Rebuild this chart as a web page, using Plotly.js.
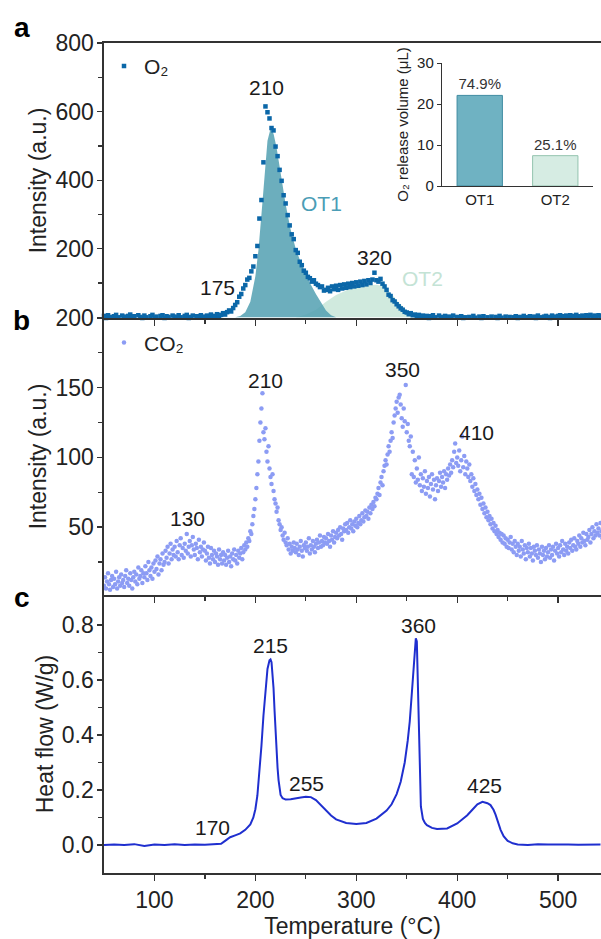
<!DOCTYPE html>
<html>
<head>
<meta charset="utf-8">
<script src="https://cdn.plot.ly/plotly-3.0.1.min.js"></script>
<style>html,body{margin:0;padding:0;background:#fff;}#chart{width:601px;height:939px;}</style>
</head>
<body>
<div id="chart"></div>
<script>
// ---------- Panel a: O2 release (MS signal), sampled every 2 °C from 50 °C ----------
const o2TempStart = 50, o2TempStep = 2;
const o2Intensity = [
  4, -2, 6, 1, -4, 3, 7, 0, -3, 5,
  2, -5, 4, 8, -1, 3, -3, 6, 1, -2,
  5, 0, -4, 3, 7, -1, 2, -3, 4, 6,
  -2, 3, 1, -5, 5, 2, -1, 6, 0, -3,
  4, 7, -2, 1, 5, -4, 3, 0, 6, 2,
  -1, 5, 3, 8, 0, 4, 9, 3, 7, 12,
  8, 15, 20, 17, 27, 36, 44, 60, 68, 84,
  94, 110, 115, 134, 148, 178, 208, 288, 342, 452,
  615, 598, 580, 552, 545, 498, 470, 430, 398, 356,
  332, 298, 268, 242, 228, 196, 188, 162, 152, 136,
  130, 118, 114, 104, 108, 98, 94, 88, 90, 78,
  80, 86, 76, 90, 82, 92, 80, 94, 84, 96,
  86, 98, 88, 100, 90, 102, 92, 104, 94, 106,
  96, 108, 100, 110, 130, 108, 104, 112, 98, 90,
  80, 66, 62, 50, 46, 38, 32, 26, 22, 16,
  14, 9, 12, 6, 8, 3, 7, 2, 5, 1,
  4, -2, 3, 6, 0, -3, 5, 1, -1, 4,
  -4, 2, 0, 5, -3, 1, -5, 3, -2, 0,
  -6, 1, -3, 4, -1, -4, 2, -2, 3, -5,
  0, -3, 2, -6, 1, -2, 4, -1, -4, 2,
  -3, 1, -5, 0, 3, -2, 1, -4, 4, 0,
  -1, 3, -3, 2, -2, 5, 0, -4, 2, 4,
  1, -2, 5, 2, -1, 4, 6, 0, 3, 5,
  2, 6, 1, 4, 7, 3, 0, 5, 2, 6,
  3, 7, 1, 5, 2, 6, 4, 1
];
// fitted peaks
const ot1Temp = [180, 185, 190, 195, 200, 203, 206, 209, 212, 215, 218, 221, 224, 227, 230, 235, 240, 245, 250, 255, 260, 265, 270, 275, 280];
const ot1Fit  = [0, 4, 15, 45, 120, 195, 300, 420, 515, 550, 535, 495, 440, 380, 330, 255, 200, 160, 125, 95, 68, 42, 20, 6, 0];
const ot2Temp = [240, 250, 260, 270, 280, 290, 300, 310, 320, 325, 330, 335, 340, 345, 350, 360, 370, 380, 400, 450, 500, 545];
const ot2Fit  = [0, 8, 22, 45, 65, 78, 87, 93, 95, 92, 82, 68, 50, 34, 20, 8, 4, 3, 3, 3, 3, 3];

// inset bar chart
const insetCats = ['OT1', 'OT2'];
const insetVolume = [22.1, 7.4];
const insetShare = ['74.9%', '25.1%'];

// ---------- Panel b: CO2 signal, sampled every 1 °C from 50 °C ----------
const co2TempStart = 50, co2TempStep = 1;
const co2Intensity = [
  8, 14, 6, 11, 17, 9, 5, 12, 15, 7,
  13, 9, 18, 6, 11, 14, 8, 16, 10, 12,
  7, 15, 19, 10, 13, 8, 17, 12, 6, 14,
  18, 11, 16, 9, 21, 13, 15, 19, 10, 17,
  14, 22, 17, 12, 25, 19, 15, 21, 13, 24,
  18, 26, 20, 29, 16, 24, 27, 19, 31, 23,
  25, 33, 28, 36, 24, 31, 38, 27, 34, 30,
  36, 29, 40, 32, 27, 37, 42, 30, 35, 28,
  38, 33, 45, 31, 36, 40, 29, 37, 43, 34,
  30, 38, 35, 27, 41, 32, 36, 29, 34, 39,
  33, 26, 31, 36, 28, 24, 35, 30, 27, 33,
  25, 31, 29, 23, 34, 27, 30, 24, 32, 26,
  30, 23, 28, 33, 25, 29, 22, 31, 27, 34,
  26, 30, 24, 33, 28, 31, 35, 27, 32, 37,
  34, 39, 36, 42, 40, 47, 45, 52, 58, 63,
  70, 78, 88, 97, 112, 125, 135, 146, 118, 113,
  121, 104, 97, 108, 92, 86, 81, 88, 76, 70,
  67, 61, 64, 55, 52, 48, 50, 44, 41, 46,
  39, 37, 42, 34, 38, 31, 36, 33, 39, 35,
  32, 38, 34, 30, 36, 40, 33, 29, 37, 35,
  39, 33, 36, 42, 31, 37, 34, 40, 36, 32,
  38, 41, 35, 39, 44, 36, 40, 37, 43, 39,
  42, 38, 45, 40, 36, 44, 41, 47, 39, 43,
  46, 42, 48, 44, 50, 45, 41, 49, 47, 52,
  48, 53, 46, 50, 55, 49, 52, 47, 54, 51,
  56, 50, 53, 58, 52, 55, 60, 54, 57, 62,
  58, 61, 56, 64, 60, 66, 63, 68, 65, 71,
  70, 74, 78, 73, 82, 86, 80, 90, 94, 98,
  95, 102, 108, 104, 112, 118, 114, 125, 130, 135,
  140, 132, 143, 145, 138, 128, 122, 135, 126, 152,
  118, 124, 112, 108, 115, 88, 104, 86, 98, 82,
  92, 84, 100, 80, 88, 76, 85, 79, 90, 74,
  83, 78, 86, 72, 81, 88, 77, 84, 70, 80,
  85, 76, 83, 89, 79, 86, 82, 90, 78, 88,
  84, 92, 87, 95, 89, 98, 93, 104, 110, 96,
  100, 94, 105, 90, 98, 115, 93, 101, 88, 97,
  92, 86, 95, 83, 88, 79, 85, 76, 81, 73,
  77, 70, 74, 66, 71, 63, 67, 60, 64, 57,
  61, 55, 58, 52, 56, 49, 53, 47, 51, 45,
  48, 43, 46, 41, 45, 39, 44, 38, 42, 36,
  41, 35, 39, 43, 34, 38, 32, 40, 36, 30,
  38, 33, 36, 29, 40, 34, 31, 37, 27, 35,
  32, 38, 29, 35, 31, 26, 36, 33, 30, 37,
  28, 34, 31, 25, 36, 30, 33, 27, 35, 29,
  32, 37, 28, 34, 30, 36, 26, 33, 38, 31,
  35, 29, 37, 32, 40, 34, 30, 38, 33, 36,
  31, 39, 35, 41, 33, 37, 42, 36, 34, 40,
  38, 44, 36, 42, 39, 46, 40, 37, 45, 41,
  43, 48, 39, 45, 50, 42, 47, 44, 52, 46,
  49, 44, 53, 47, 42, 50
];

// ---------- Panel c: DSC heat flow ----------
const hfTemp = [50, 60, 70, 80, 90, 100, 110, 120, 130, 140, 150, 160, 166, 170, 175, 180, 185, 190, 195, 198,
  200, 202, 204, 206, 208, 210, 212, 214, 215, 216, 217, 218, 219, 220, 221, 222, 223, 224, 225, 227,
  230, 235, 240, 245, 250, 255, 260, 265, 270, 275, 280, 290, 300, 310, 320, 330, 335, 340, 344, 348,
  351, 353, 355, 357, 358, 359, 360, 361, 362, 363, 364, 366, 368, 370, 375, 380, 390, 400, 410, 415,
  420, 425, 430, 433, 436, 438, 440, 443, 446, 450, 455, 460, 470, 480, 490, 500, 510, 520, 530, 542];
const hfValue = [0.0, 0.002, 0.0, 0.003, -0.004, 0.002, 0.0, 0.003, 0.0, 0.002, 0.001, 0.003, 0.004, 0.015, 0.028, 0.035, 0.042, 0.055, 0.075, 0.1,
  0.13, 0.18, 0.26, 0.36, 0.47, 0.57, 0.64, 0.672, 0.675, 0.665, 0.63, 0.57, 0.49, 0.41, 0.34, 0.28, 0.235, 0.2, 0.182, 0.17,
  0.165, 0.166, 0.17, 0.173, 0.175, 0.174, 0.163, 0.145, 0.125, 0.107, 0.093, 0.08, 0.076, 0.08, 0.096, 0.125, 0.148, 0.185, 0.23, 0.3,
  0.38, 0.45, 0.55, 0.66, 0.72, 0.752, 0.74, 0.6, 0.4, 0.22, 0.14, 0.095, 0.08, 0.072, 0.062, 0.058, 0.06, 0.078, 0.108, 0.128,
  0.148, 0.157, 0.152, 0.145, 0.128, 0.11, 0.085, 0.055, 0.032, 0.015, 0.006, 0.002, 0.0, 0.003, 0.002, 0.003, 0.002, 0.001, 0.002, 0.002];

// ---------- labels ----------
const xTicks = [100, 200, 300, 400, 500];
const xMinor = [150, 250, 350, 450];
const aTicks = [200, 400, 600, 800], aMinor = [100, 300, 500, 700];
const bTicks = [50, 100, 150, 200], bMinor = [25, 75, 125, 175];
const cTicks = [0, 0.2, 0.4, 0.6, 0.8], cMinor = [0.1, 0.3, 0.5, 0.7];
const insetTicks = [0, 10, 20, 30];

const peakLabelsA = [{t: '210', x: 211, y: 671}, {t: '175', x: 162, y: 86}, {t: '320', x: 318, y: 174}];
const peakLabelsB = [{t: '130', x: 133, y: 56.5}, {t: '210', x: 210, y: 155.5}, {t: '350', x: 346, y: 162.7}, {t: '410', x: 419, y: 118}];
const peakLabelsC = [{t: '215', x: 215, y: 0.727}, {t: '170', x: 158, y: 0.065}, {t: '255', x: 251, y: 0.222}, {t: '360', x: 362, y: 0.8}, {t: '425', x: 427, y: 0.218}];

// ---------- build ----------
const FONT = 'Liberation Sans, Arial, Helvetica, sans-serif';
const AX = '#333333';
const o2Temp = o2Intensity.map((_, i) => o2TempStart + o2TempStep * i);
const co2Temp = co2Intensity.map((_, i) => co2TempStart + co2TempStep * i);

const traces = [
  {x: ot2Temp, y: ot2Fit, xaxis: 'x3', yaxis: 'y', type: 'scatter', mode: 'lines', fill: 'tozeroy',
   fillcolor: 'rgba(200,230,216,0.85)', line: {width: 0, color: 'rgba(0,0,0,0)'}, showlegend: false, hoverinfo: 'skip'},
  {x: ot1Temp, y: ot1Fit, xaxis: 'x3', yaxis: 'y', type: 'scatter', mode: 'lines', fill: 'tozeroy',
   fillcolor: 'rgba(82,160,178,0.85)', line: {width: 0, color: 'rgba(0,0,0,0)'}, showlegend: false, hoverinfo: 'skip'},
  {x: o2Temp, y: o2Intensity, xaxis: 'x3', yaxis: 'y', type: 'scatter', mode: 'markers', name: 'O₂',
   marker: {symbol: 'square', size: 4.5, color: '#0b67a8'}, cliponaxis: false, legend: 'legend'},
  {x: co2Temp, y: co2Intensity, xaxis: 'x2', yaxis: 'y2', type: 'scatter', mode: 'markers', name: 'CO₂',
   marker: {symbol: 'circle', size: 4.5, color: '#8c9cf4'}, legend: 'legend2'},
  {x: hfTemp, y: hfValue, xaxis: 'x', yaxis: 'y3', type: 'scatter', mode: 'lines',
   line: {color: '#1f2fcf', width: 2}, showlegend: false},
  {x: insetCats, y: insetVolume, xaxis: 'x4', yaxis: 'y4', type: 'bar', text: insetShare, textposition: 'outside',
   textfont: {family: FONT, size: 15, color: '#333'}, cliponaxis: false,
   marker: {color: ['#6fb2c2', '#d6ece3'], line: {color: ['#3f8ba1', '#93c3af'], width: 1}}, showlegend: false}
];

const tickFont = {family: FONT, size: 23, color: '#222'};
function xAx(anchor, labels) {
  return {domain: [0, 1], anchor: anchor, range: [50, 542.5], tickmode: 'array', tickvals: xTicks,
    showticklabels: labels, ticks: 'outside', ticklen: 6, tickwidth: 1.3, tickcolor: AX,
    minor: {tickmode: 'array', tickvals: xMinor, ticks: 'outside', ticklen: 4, tickwidth: 1.3, tickcolor: AX},
    showline: true, linecolor: AX, linewidth: 1.6, showgrid: false, zeroline: false, tickfont: tickFont};
}
function yAx(domain, range, tv, mv, fmt, title) {
  return {domain: domain, range: range, tickmode: 'array', tickvals: tv, tickformat: fmt,
    ticks: 'outside', ticklen: 5, tickwidth: 1.3, tickcolor: AX, ticklabelstandoff: -1,
    minor: {tickmode: 'array', tickvals: mv, ticks: 'outside', ticklen: 4, tickwidth: 1.3, tickcolor: AX},
    showline: true, linecolor: AX, linewidth: 1.6, showgrid: false, zeroline: false, tickfont: tickFont,
    title: {text: title, font: {family: FONT, size: 23, color: '#222'}, standoff: 2}};
}

const ann = [];
function addLabels(list, xr, yr) {
  list.forEach(p => ann.push({text: p.t, x: p.x, y: p.y, xref: xr, yref: yr, showarrow: false,
    xanchor: 'center', yanchor: 'middle', font: {family: FONT, size: 21, color: '#1a1a1a'}}));
}
addLabels(peakLabelsA, 'x3', 'y');
addLabels(peakLabelsB, 'x2', 'y2');
addLabels(peakLabelsC, 'x', 'y3');
ann.push({text: 'OT1', x: 266, y: 331, xref: 'x3', yref: 'y', showarrow: false, font: {family: FONT, size: 21, color: '#4b9db6'}});
ann.push({text: 'OT2', x: 366, y: 112, xref: 'x3', yref: 'y', showarrow: false, font: {family: FONT, size: 21, color: '#c4e3d5'}});
[['a', 1.019], ['b', 0.666], ['c', 0.3325]].forEach(l => ann.push({text: '<b>' + l[0] + '</b>', x: -0.165, y: l[1],
  xref: 'paper', yref: 'paper', showarrow: false, xanchor: 'center', yanchor: 'middle', font: {family: FONT, size: 28, color: '#000'}}));

const layout = {
  width: 601, height: 939, margin: {l: 104, r: 0, t: 43, b: 66},
  paper_bgcolor: '#fff', plot_bgcolor: 'rgba(0,0,0,0)', font: {family: FONT, color: '#222'},
  xaxis: Object.assign(xAx('y3', true), {title: {text: 'Temperature (°C)', font: {family: FONT, size: 23, color: '#222'}, standoff: 8}}),
  xaxis2: Object.assign(xAx('y2', false), {matches: 'x'}),
  xaxis3: Object.assign(xAx('y', false), {matches: 'x', mirror: true}),
  yaxis: yAx([0.6687, 1], [-2, 800], aTicks, aMinor, 'd', 'Intensity (a.u.)'),
  yaxis2: yAx([0.3349, 0.6687], [1.3, 200], bTicks, bMinor, 'd', 'Intensity (a.u.)'),
  yaxis3: yAx([0, 0.3349], [-0.102, 0.909], cTicks, cMinor, '.1f', 'Heat flow (W/g)'),
  xaxis4: {domain: [0.680, 0.984], anchor: 'y4', type: 'category', showline: true, linecolor: AX, linewidth: 1.2,
    ticks: '', showgrid: false, tickfont: {family: FONT, size: 15, color: '#222'}},
  yaxis4: {domain: [0.8277, 0.9759], anchor: 'x4', range: [0, 30], tickmode: 'array', tickvals: insetTicks,
    ticks: 'outside', ticklen: 4, tickcolor: AX, showline: true, linecolor: AX, linewidth: 1.2, showgrid: false, zeroline: false,
    tickfont: {family: FONT, size: 15, color: '#222'},
    title: {text: 'O₂ release volume (μL)', font: {family: FONT, size: 15, color: '#222'}, standoff: 4}},
  bargap: 0.4,
  legend: {x: 0.0, y: 0.972, xanchor: 'left', yanchor: 'middle', bgcolor: 'rgba(0,0,0,0)',
    font: {family: FONT, size: 21, color: '#222'}},
  legend2: {x: 0.0, y: 0.6386, xanchor: 'left', yanchor: 'middle', bgcolor: 'rgba(0,0,0,0)',
    font: {family: FONT, size: 21, color: '#222'}},
  annotations: ann,
  showlegend: true
};

Plotly.newPlot('chart', traces, layout, {displayModeBar: false, staticPlot: true});
</script>
</body>
</html>
